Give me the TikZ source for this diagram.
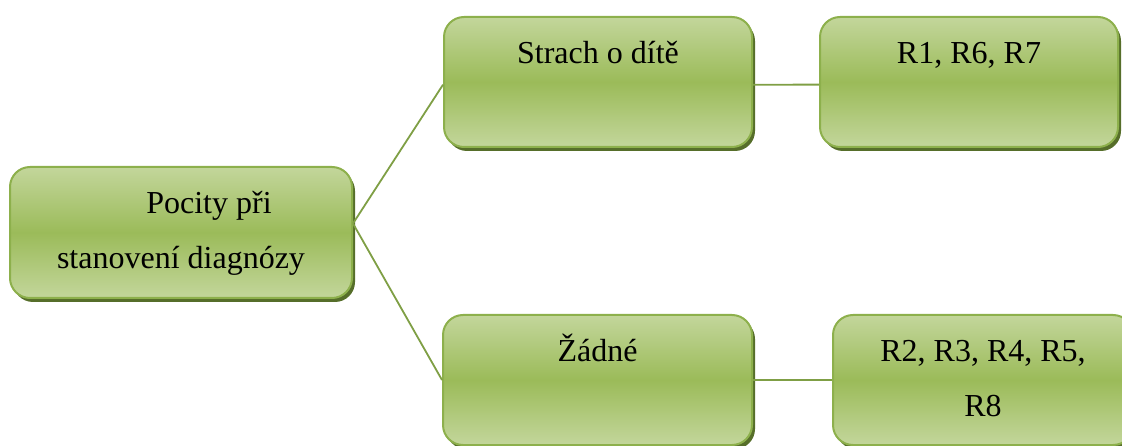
\documentclass[tikz,border=0pt]{standalone}
\usepackage{fontspec}
\setmainfont{Liberation Serif}
\usetikzlibrary{shadows}
\definecolor{lightg}{HTML}{C3D69B}
\definecolor{darkg}{HTML}{9BBB59}
\definecolor{edgeg}{HTML}{8DB04C}
\definecolor{shadowg}{HTML}{566E2A}
\definecolor{lineg}{HTML}{7F9F45}
\tikzset{
  box/.style={rounded corners=20pt, draw=edgeg, line width=2pt,
    top color=lightg, bottom color=lightg, middle color=darkg,
    general shadow={fill=shadowg, shadow xshift=3pt, shadow yshift=-4pt},
    align=center, inner sep=0pt, text height=24pt, text depth=61pt,
    font=\fontsize{32}{55}\selectfont},
  twolines/.style={text height=79pt, text depth=6pt},
  conn/.style={draw=lineg, line width=1.8pt}
}
\begin{document}
\begin{tikzpicture}[x=1pt,y=-1pt]
\useasboundingbox (0,0) rectangle (1122,446);
\node[box, twolines, minimum width=342pt, minimum height=131pt] (root) at (181,232.5)
  {\hspace*{56pt}Pocity při\\stanovení diagnózy};
\node[box, minimum width=308pt, minimum height=130pt] (mid1) at (598,82) {Strach o dítě};
\node[box, minimum width=298pt, minimum height=130pt] (right1) at (969,82) {R1, R6, R7};
\node[box, minimum width=309pt, minimum height=130pt] (mid2) at (597.5,380) {Žádné};
\node[box, twolines, minimum width=300pt, minimum height=130pt] (right2) at (983,380) {R2, R3, R4, R5,\\R8};
\draw[conn] (root.3) -- (mid1.181);
\draw[conn] (root.3) -- (mid2.west);
\draw[conn] (mid1.-1) -- (right1.181);
\draw[conn] (mid2.east) -- (right2.west);
\end{tikzpicture}
\end{document}
